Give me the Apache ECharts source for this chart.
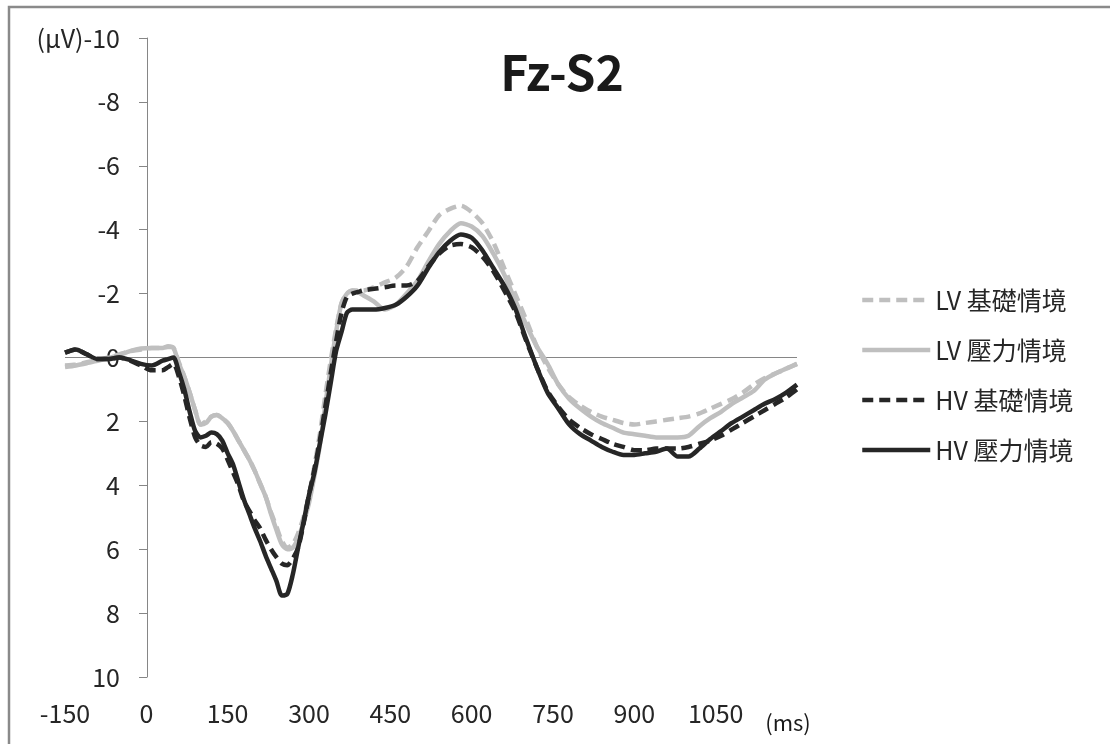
<!DOCTYPE html>
<html>
<head>
<meta charset="utf-8">
<script src="https://cdn.jsdelivr.net/npm/echarts@6/dist/echarts.min.js"></script>
<style>
html,body{margin:0;padding:0;background:#fff;}
#chart{width:1110px;height:744px;}
</style>
</head>
<body>
<div id="chart"></div>
<script>
// time points (ms)
const times = [-150,-130,-110,-90,-70,-50,-30,-10,10,30,
  40,50,60,70,80,90,100,110,120,130,140,150,160,170,180,190,200,210,220,230,240,250,260,270,280,290,300,310,320,330,340,350,360,370,380,390,400,
  420,440,460,480,500,520,540,560,580,600,620,640,660,680,700,720,740,760,780,800,820,840,860,880,900,920,940,960,980,1000,1020,1040,1060,1080,1100,1120,1140,1160,1180,1200];

const seriesNames = ['LV 基礎情境','LV 壓力情境','HV 基礎情境','HV 壓力情境'];

const lvBase = [0.25,0.22,0.15,0.08,0.0,-0.1,-0.2,-0.25,-0.3,-0.3,
  -0.33,-0.3,0.15,0.6,1.1,1.65,2.1,2.0,1.85,1.8,1.9,2.05,2.3,2.6,2.9,3.2,3.55,3.95,4.35,4.85,5.3,5.75,5.95,5.85,5.5,5.0,4.3,3.4,2.4,1.2,0.1,-0.9,-1.7,-2.0,-2.1,-2.1,-2.1,
  -2.2,-2.35,-2.5,-2.85,-3.45,-3.95,-4.45,-4.65,-4.75,-4.55,-4.2,-3.6,-2.8,-2.0,-1.2,-0.35,0.3,0.85,1.25,1.5,1.7,1.85,1.95,2.05,2.1,2.05,2.0,1.95,1.9,1.85,1.75,1.6,1.45,1.3,1.1,0.85,0.65,0.5,0.35,0.2];

const lvStress = [0.3,0.25,0.18,0.1,0.02,-0.08,-0.2,-0.28,-0.3,-0.3,
  -0.35,-0.3,0.2,0.6,1.1,1.65,2.1,2.05,1.85,1.8,1.9,2.05,2.3,2.6,2.9,3.2,3.55,3.95,4.35,4.9,5.4,5.85,6.0,5.95,5.65,5.15,4.55,3.7,2.75,1.5,0.3,-0.8,-1.7,-2.0,-2.1,-2.05,-1.95,
  -1.75,-1.5,-1.65,-2.0,-2.4,-3.0,-3.55,-3.95,-4.2,-4.1,-3.8,-3.25,-2.6,-1.8,-1.05,-0.35,0.2,0.85,1.3,1.6,1.85,2.05,2.2,2.35,2.4,2.45,2.5,2.5,2.5,2.45,2.15,1.9,1.7,1.45,1.25,1.05,0.7,0.5,0.35,0.2];

const hvBase = [-0.15,-0.25,-0.1,0.05,0.05,0.0,0.1,0.25,0.4,0.4,
  0.3,0.2,0.6,1.2,1.9,2.5,2.75,2.8,2.65,2.7,2.85,3.2,3.6,4.0,4.5,4.8,5.1,5.35,5.7,6.0,6.25,6.45,6.5,6.3,5.95,5.2,4.3,3.5,2.6,1.55,0.5,-0.5,-1.4,-1.9,-2.0,-2.05,-2.1,
  -2.15,-2.2,-2.25,-2.25,-2.4,-2.85,-3.25,-3.5,-3.55,-3.45,-3.15,-2.7,-2.1,-1.45,-0.55,0.3,1.05,1.55,1.95,2.2,2.4,2.55,2.7,2.8,2.9,2.9,2.85,2.85,2.85,2.8,2.7,2.6,2.45,2.25,2.05,1.85,1.65,1.45,1.25,1.0];

const hvStress = [-0.15,-0.25,-0.1,0.05,0.05,0.0,0.08,0.2,0.25,0.1,
  0.05,0.0,0.45,1.0,1.7,2.3,2.5,2.45,2.35,2.4,2.6,3.0,3.35,3.9,4.45,4.9,5.35,5.75,6.2,6.6,7.0,7.45,7.4,6.8,5.95,5.15,4.3,3.6,2.7,1.8,0.8,-0.2,-0.8,-1.4,-1.5,-1.5,-1.5,
  -1.5,-1.55,-1.65,-1.9,-2.25,-2.8,-3.3,-3.65,-3.85,-3.75,-3.35,-2.8,-2.25,-1.55,-0.6,0.3,1.1,1.6,2.1,2.4,2.6,2.8,2.95,3.05,3.05,3.0,2.95,2.85,3.1,3.1,2.85,2.55,2.3,2.05,1.85,1.65,1.45,1.3,1.1,0.85];

const xTicks = [-150,0,150,300,450,600,750,900,1050];

const pair = arr => times.map((t,i)=>[t,arr[i]]);

const grey = '#bfbfbf', dark = '#262626', axisGrey = '#868686';
const fontFam = '"Noto Sans CJK TC","Noto Sans",sans-serif';
const dash = [11,6];

const chart = echarts.init(document.getElementById('chart'));
const mk = (name, arr, color, dashed) => ({
  name, type:'line', data: pair(arr), xAxisIndex:0, yAxisIndex:0,
  symbol:'none', showSymbol:false, smooth:0.25, z:3,
  lineStyle:{color:color, width:4.5, type: dashed ? dash : 'solid'},
  itemStyle:{color:color},
  emphasis:{disabled:true}
});

const series = [
  // carrier for the zero reference line (drawn beneath the curves)
  {type:'line', data:[], silent:true, z:1, symbol:'none',
    markLine:{
      silent:true, symbol:['none','none'], animation:false, z:1,
      label:{show:false},
      lineStyle:{color:axisGrey, width:1, type:'solid'},
      emphasis:{disabled:true},
      data:[{yAxis:0}]
    }},
  mk(seriesNames[0], lvBase, grey, true),
  mk(seriesNames[1], lvStress, grey, false),
  mk(seriesNames[2], hvBase, dark, true),
  mk(seriesNames[3], hvStress, dark, false)
];

chart.setOption({
  animation:false,
  backgroundColor:'#ffffff',
  grid:{left:65, right:313, top:38, bottom:67, containLabel:false, outerBoundsMode:'none'},
  legend:{
    orient:'vertical', left:855, top:282,
    itemWidth:68, itemHeight:14, itemGap:24,
    data: seriesNames,
    itemStyle:{opacity:0},
    lineStyle:{width:4.5},
    textStyle:{fontSize:25, color:'#262626', fontFamily:fontFam, lineHeight:26}
  },
  xAxis:{
    type:'value', min:-150, max:1200, interval:150,
    axisLine:{show:false}, axisTick:{show:false}, splitLine:{show:false},
    axisLabel:{margin:24, fontSize:25, color:'#262626', fontFamily:fontFam,
      formatter: v => xTicks.indexOf(v) >= 0 ? String(v) : ''}
  },
  yAxis:{
    type:'value', inverse:true, min:-10, max:10, interval:2,
    position:'left', offset:-82,
    axisLine:{show:true, onZero:false, lineStyle:{color:axisGrey, width:1}},
    axisTick:{show:true, inside:false, length:8, lineStyle:{color:axisGrey}},
    splitLine:{show:false},
    axisLabel:{margin:27, fontSize:25, color:'#262626', fontFamily:fontFam,
      formatter: v => v === -10 ? '(μV)-10' : String(v)}
  },
  graphic:[
    {type:'rect', silent:true, z:-10, shape:{x:9, y:7, width:1200, height:800},
      style:{fill:'none', stroke:'#8a8a8a', lineWidth:2.5}},
    {type:'text', x:562, y:73, style:{text:'Fz-S2', fontSize:48, fontWeight:'bold',
      fontFamily:fontFam, fill:'#1a1a1a', textAlign:'center', textVerticalAlign:'middle'}},
    {type:'text', x:788, y:723, style:{text:'(ms)', fontSize:22,
      fontFamily:fontFam, fill:'#1a1a1a', textAlign:'center', textVerticalAlign:'middle'}}
  ],
  series: series
});
</script>
</body>
</html>
